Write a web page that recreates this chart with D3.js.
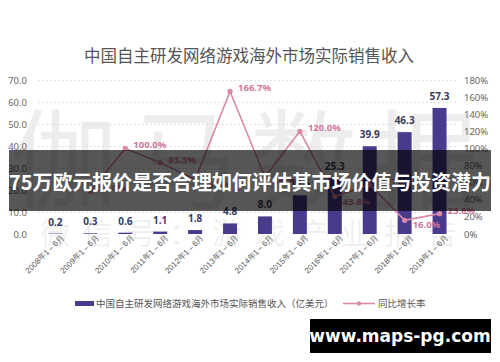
<!DOCTYPE html>
<html lang="zh">
<head>
<meta charset="utf-8">
<title>海外市场实际销售收入</title>
<script src="https://d3js.org/d3.v7.min.js"></script>
<style>
  body { margin: 0; background: #fff; }
  svg { display: block; font-family: "Noto Sans CJK SC", "Noto Sans", sans-serif; }
</style>
</head>
<body>
<script>
// data
var years = ["2008", "2009", "2010", "2011", "2012", "2013", "2014", "2015", "2016", "2017", "2018", "2019"];
var revenue = [0.2, 0.3, 0.6, 1.1, 1.8, 4.8, 8.0, 17.6, 25.3, 39.9, 46.3, 57.3];
var growth = [null, 0.5, 1.0, 0.833, 0.636, 1.667, 0.667, 1.2, 0.438, 0.577, 0.16, 0.238];
var leftTicks = [0, 10, 20, 30, 40, 50, 60, 70];
var rightTicks = [0, 0.2, 0.4, 0.6, 0.8, 1.0, 1.2, 1.4, 1.6, 1.8];

var title = "中国自主研发网络游戏海外市场实际销售收入";
var barName = "中国自主研发网络游戏海外市场实际销售收入（亿美元）";
var lineName = "同比增长率";
var banner = "75万欧元报价是否合理如何评估其市场价值与投资潜力";
var site = "www.maps-pg.com";

var w = 500, h = 362;
var barColor = "#4a3a8e", lineColor = "#d98aa8", labelPink = "#cf7799";

var svg = d3.select("body").append("svg").attr("width", w).attr("height", h);
svg.append("rect").attr("width", w).attr("height", h).attr("fill", "#fff");

var x = d3.scaleBand().domain(years).range([38, 457]).paddingInner(0.6).paddingOuter(0.3);
var y = d3.scaleLinear().domain([0, 70]).range([234, 80]);
var y2 = d3.scaleLinear().domain([0, 1.8]).range([234, 80]);

// watermark
var wm = svg.append("g").attr("fill", "#000").attr("fill-opacity", 0.07);
wm.append("text").attr("x", 250).attr("y", 200).attr("text-anchor", "middle")
  .attr("font-size", 108).attr("letter-spacing", 12).text("伽马数据");
wm.append("text").attr("x", 255).attr("y", 244).attr("text-anchor", "middle")
  .attr("font-size", 30).attr("letter-spacing", 13).text("微信号：游戏产业报告");

// title
svg.append("text").attr("x", 249).attr("y", 62).attr("text-anchor", "middle")
  .attr("font-size", 16.5).attr("fill", "#555").text(title);

// grid
svg.append("g").selectAll("line").data(leftTicks.slice(1)).join("line")
  .attr("x1", 38).attr("x2", 457)
  .attr("y1", d => y(d) + 0.5).attr("y2", d => y(d) + 0.5)
  .attr("stroke", "#e2e2e2").attr("stroke-dasharray", "2,2");

// axes
var ax = svg.append("g").attr("transform", "translate(30,0)")
  .call(d3.axisLeft(y).tickValues(leftTicks).tickFormat(d3.format(".1f")).tickSize(0));
var ax2 = svg.append("g").attr("transform", "translate(461,0)")
  .call(d3.axisRight(y2).tickValues(rightTicks).tickFormat(d3.format(".0%")).tickSize(0));
[ax, ax2].forEach(function (g) {
  g.select(".domain").remove();
  g.selectAll("text").attr("font-size", 9.5).attr("fill", "#666")
    .attr("font-family", "'Noto Sans', sans-serif");
});

var xa = svg.append("g").attr("transform", "translate(0,236)")
  .call(d3.axisBottom(x).tickSize(0).tickFormat(d => d + "年1－6月"));
xa.select(".domain").remove();
xa.selectAll("text").attr("font-size", 8).attr("fill", "#555")
  .attr("text-anchor", "end").attr("dx", "0.6em").attr("dy", "0.6em")
  .attr("transform", "rotate(-45)");

// bars
svg.append("g").selectAll("rect").data(revenue).join("rect")
  .attr("x", (d, i) => x(years[i])).attr("width", x.bandwidth())
  .attr("y", d => y(d)).attr("height", d => y(0) - y(d))
  .attr("fill", barColor);
svg.append("g").selectAll("text").data(revenue).join("text")
  .attr("x", (d, i) => x(years[i]) + x.bandwidth() / 2)
  .attr("y", d => y(d) - 8).attr("text-anchor", "middle")
  .attr("font-size", 10).attr("font-weight", "bold").attr("fill", "#3b3b5e")
  .attr("font-family", "'Noto Sans', sans-serif")
  .text(d => d.toFixed(1));

// growth line
var pts = growth.map((g, i) => ({ g: g, i: i })).filter(d => d.g !== null);
var cx = d => x(years[d.i]) + x.bandwidth() / 2;
svg.append("path").datum(pts)
  .attr("d", d3.line().x(cx).y(d => y2(d.g)))
  .attr("fill", "none").attr("stroke", lineColor).attr("stroke-width", 1.6);
svg.append("g").selectAll("circle").data(pts).join("circle")
  .attr("cx", cx).attr("cy", d => y2(d.g)).attr("r", 2.6).attr("fill", lineColor);
svg.append("g").selectAll("text").data(pts).join("text")
  .attr("x", d => cx(d) + 8)
  .attr("y", function (d) {
    var prev = growth[d.i - 1], next = growth[d.i + 1];
    var low = prev != null && next != null && d.g < prev && d.g < next;
    return y2(d.g) + (low ? 8 : 0);
  })
  .attr("font-size", 9.5).attr("font-weight", "bold").attr("fill", labelPink)
  .attr("font-family", "'Noto Sans', sans-serif")
  .text(d => (d.g * 100).toFixed(1) + "%");

// legend
var lg = svg.append("g").attr("font-size", 9.5).attr("fill", "#555");
lg.append("rect").attr("x", 75).attr("y", 301).attr("width", 19).attr("height", 5).attr("fill", barColor);
lg.append("text").attr("x", 96).attr("y", 307).text(barName);
lg.append("line").attr("x1", 343).attr("x2", 375).attr("y1", 303.5).attr("y2", 303.5)
  .attr("stroke", lineColor).attr("stroke-width", 1.6);
lg.append("circle").attr("cx", 359).attr("cy", 303.5).attr("r", 2.2).attr("fill", lineColor);
lg.append("text").attr("x", 378).attr("y", 307).text(lineName);

// overlay banner
svg.append("rect").attr("x", 9).attr("y", 150).attr("width", 482).attr("height", 61)
  .attr("fill", "#000").attr("fill-opacity", 0.66);
svg.append("text").attr("x", 9).attr("y", 190)
  .attr("font-size", 20).attr("font-weight", "bold").attr("fill", "#fff")
  .attr("textLength", 482).attr("lengthAdjust", "spacingAndGlyphs")
  .text(banner);

// site tag
svg.append("rect").attr("x", 310).attr("y", 319).attr("width", 181).attr("height", 34).attr("fill", "#000");
svg.append("text").attr("x", 400).attr("y", 342).attr("text-anchor", "middle")
  .attr("font-size", 17).attr("font-weight", "bold").attr("fill", "#fff")
  .attr("font-family", "'DejaVu Sans', sans-serif")
  .text(site);
</script>
</body>
</html>
